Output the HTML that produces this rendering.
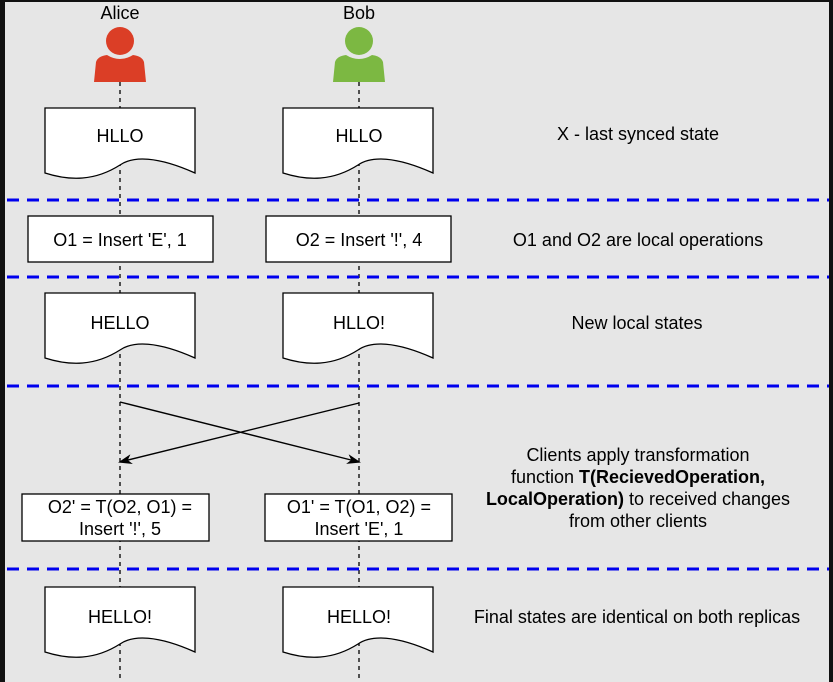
<!DOCTYPE html>
<html><head><style>
body{margin:0;width:833px;height:682px;background:#111;overflow:hidden}
svg{display:block}
text{font-family:"Liberation Sans",Arial,sans-serif;font-size:18px;fill:#000}
</style></head><body>
<svg width="833" height="682" viewBox="0 0 833 682">
<rect x="5" y="2" width="824" height="680" fill="#e6e6e6"/>
<defs>
<path id="doc" d="M0,0 H150 V65 C112,48 88,48 75,57 C50,73 25,73 0,65 Z" fill="#fff" stroke="#000" stroke-width="1.3"/>
<marker id="ah" markerWidth="14" markerHeight="10" refX="12" refY="5" orient="auto" markerUnits="userSpaceOnUse"><path d="M0,0 L14,5 L0,10 L4,5 Z" fill="#000"/></marker>
</defs>
<line x1="120" y1="82" x2="120" y2="682" stroke="#000" stroke-dasharray="4,4" stroke-width="1.3"/>
<line x1="359" y1="82" x2="359" y2="682" stroke="#000" stroke-dasharray="4,4" stroke-width="1.3"/>
<text x="120" y="19" text-anchor="middle">Alice</text>
<circle cx="120" cy="41" r="14" fill="#db3e26"/>
<path d="M94,82 L96,62 Q98,56 107,55 Q120,63 133,55 Q142,56 144,62 L146,82 Z" fill="#db3e26"/>
<text x="359" y="19" text-anchor="middle">Bob</text>
<circle cx="359" cy="41" r="14" fill="#7cb842"/>
<path d="M333,82 L335,62 Q337,56 346,55 Q359,63 372,55 Q381,56 383,62 L385,82 Z" fill="#7cb842"/>
<g stroke="#0000ee" stroke-width="3" stroke-dasharray="12,8">
<line x1="7" y1="200" x2="829" y2="200"/>
<line x1="7" y1="277" x2="829" y2="277"/>
<line x1="7" y1="386" x2="829" y2="386"/>
<line x1="7" y1="569" x2="829" y2="569"/>
</g>
<use href="#doc" x="45" y="108"/><text x="120" y="142" text-anchor="middle">HLLO</text>
<use href="#doc" x="283" y="108"/><text x="359" y="142" text-anchor="middle">HLLO</text>
<text x="638" y="140" text-anchor="middle">X - last synced state</text>
<rect x="28" y="216" width="185" height="46" fill="#fff" stroke="#000" stroke-width="1.3"/>
<text x="120" y="246" text-anchor="middle">O1 = Insert 'E', 1</text>
<rect x="266" y="216" width="185" height="46" fill="#fff" stroke="#000" stroke-width="1.3"/>
<text x="359" y="246" text-anchor="middle">O2 = Insert '!', 4</text>
<text x="638" y="246" text-anchor="middle">O1 and O2 are local operations</text>
<use href="#doc" x="45" y="293"/><text x="120" y="329" text-anchor="middle">HELLO</text>
<use href="#doc" x="283" y="293"/><text x="359" y="329" text-anchor="middle">HLLO!</text>
<text x="637" y="329" text-anchor="middle">New local states</text>
<line x1="120" y1="402" x2="359" y2="462" stroke="#000" stroke-width="1.4" marker-end="url(#ah)"/>
<line x1="359" y1="403" x2="120" y2="462" stroke="#000" stroke-width="1.4" marker-end="url(#ah)"/>
<rect x="22" y="494" width="187" height="47" fill="#fff" stroke="#000" stroke-width="1.3"/>
<text x="120" y="513" text-anchor="middle">O2' = T(O2, O1) =</text>
<text x="120" y="535" text-anchor="middle">Insert '!', 5</text>
<rect x="265" y="494" width="187" height="47" fill="#fff" stroke="#000" stroke-width="1.3"/>
<text x="359" y="513" text-anchor="middle">O1' = T(O1, O2) =</text>
<text x="359" y="535" text-anchor="middle">Insert 'E', 1</text>
<text x="638" y="461" text-anchor="middle">Clients apply transformation</text>
<text x="638" y="483" text-anchor="middle">function <tspan font-weight="bold">T(RecievedOperation,</tspan></text>
<text x="638" y="505" text-anchor="middle"><tspan font-weight="bold">LocalOperation)</tspan> to received changes</text>
<text x="638" y="527" text-anchor="middle">from other clients</text>
<use href="#doc" x="45" y="587"/><text x="120" y="623" text-anchor="middle">HELLO!</text>
<use href="#doc" x="283" y="587"/><text x="359" y="623" text-anchor="middle">HELLO!</text>
<text x="637" y="623" text-anchor="middle">Final states are identical on both replicas</text>
</svg>
</body></html>
